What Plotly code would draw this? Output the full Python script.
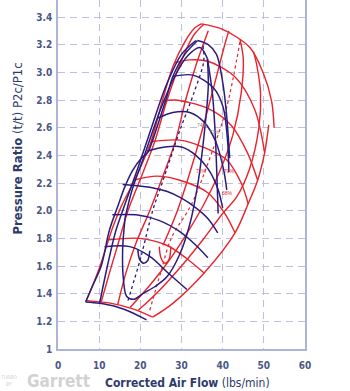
import plotly.graph_objects as go

# ---------------- axis ticks ----------------
x_ticks = [0, 10, 20, 30, 40, 50, 60]
x_tick_labels = ["0", "10", "20", "30", "40", "50", "60"]
y_ticks = [1.0, 1.2, 1.4, 1.6, 1.8, 2.0, 2.2, 2.4, 2.6, 2.8, 3.0, 3.2, 3.4]
y_tick_labels = ["1", "1.2", "1.4", "1.6", "1.8", "2.0", "2.2", "2.4", "2.6", "2.8", "3.0", "3.2", "3.4"]

# ---------------- red compressor map (flow lbs/min, pressure ratio) ----------------
red_surge = [(6.9, 1.35), (10.1, 1.59), (13.3, 1.88), (15.5, 2.04), (18.6, 2.22), (22.5, 2.49),
             (25.4, 2.80), (27.9, 3.04), (30.8, 3.22), (33.2, 3.32), (34.8, 3.35)]
red_speed_1 = [(6.9, 1.35), (13.0, 1.33), (18.2, 1.29), (23.0, 1.23)]
red_speed_2 = [(12.4, 1.79), (19.8, 1.80), (26.4, 1.75), (31.0, 1.66), (35.5, 1.55)]
red_speed_3 = [(18.3, 2.22), (24.0, 2.25), (29.6, 2.22), (36.4, 2.13), (40.5, 1.98), (43.0, 1.84)]
red_speed_4 = [(22.6, 2.50), (29.6, 2.51), (35.2, 2.46), (40.9, 2.37), (44.5, 2.20), (46.2, 2.05)]
red_speed_5 = [(25.3, 2.79), (28.3, 2.80), (36.4, 2.74), (42.0, 2.62), (46.0, 2.42), (48.5, 2.22)]
red_speed_6 = [(28.4, 3.07), (32.0, 3.09), (36.4, 3.08), (42.9, 2.97), (47.8, 2.73), (50.2, 2.42)]
red_speed_7 = [(34.8, 3.35), (40.0, 3.31), (46.6, 3.18), (49.8, 3.00), (51.9, 2.79), (52.5, 2.60)]
red_choke = [(23.0, 1.23), (27.9, 1.33), (35.5, 1.55), (43.0, 1.84), (46.2, 2.05), (48.5, 2.22),
             (50.2, 2.42), (51.2, 2.62)]
red_eff_a = [(19.5, 1.28), (24.5, 1.42), (30.0, 1.60), (35.2, 1.79), (40.0, 1.98), (43.4, 2.10),
             (46.5, 2.30), (48.8, 2.60), (49.2, 2.85), (48.3, 3.05), (47.5, 3.15)]
red_eff_b = [(17.5, 1.30), (22.0, 1.45), (26.5, 1.62), (31.0, 1.82), (35.5, 2.05), (39.5, 2.30),
             (42.5, 2.55), (44.5, 2.85), (45.0, 3.10), (44.2, 3.24)]
red_eff_c = [(25.5, 1.75), (29.0, 2.00), (33.2, 2.39), (37.0, 2.80), (40.6, 3.21), (41.5, 3.30)]
red_eff_d = [(10.5, 1.34), (12.5, 1.55), (14.5, 1.75), (17.0, 2.00), (20.3, 2.25), (23.5, 2.50),
             (26.5, 2.80), (29.5, 3.05), (33.0, 3.27), (35.5, 3.35)]
red_eff_e = [(14.5, 1.32), (16.5, 1.55), (19.0, 1.77), (22.3, 2.00), (25.5, 2.25), (28.5, 2.50),
             (31.0, 2.80), (33.5, 3.05), (36.5, 3.30)]
red_island = [(24.6, 1.74), (25.0, 1.66), (26.0, 1.62), (27.0, 1.65), (27.4, 1.74)]
red_dotted = [(22.3, 1.28), (25.1, 1.57), (27.5, 1.80), (32.5, 2.05), (37.6, 2.44), (41.0, 2.75),
              (44.2, 3.22)]
red_labels = [(34.8, 2.29, "72%"), (41.7, 2.29, "70%"), (41.2, 2.13, "68%")]

# ---------------- blue compressor map ----------------
blue_surge = [(6.7, 1.34), (8.6, 1.47), (10.5, 1.60), (12.5, 1.86), (14.5, 2.03), (16.2, 2.17),
              (18.1, 2.29), (20.3, 2.38), (21.8, 2.42), (23.0, 2.51), (24.0, 2.60), (26.4, 2.82),
              (27.9, 2.97), (30.8, 3.13), (33.9, 3.23)]
blue_speed_1 = [(6.7, 1.34), (10.1, 1.33), (14.2, 1.305), (18.2, 1.26), (21.5, 1.21)]
blue_speed_2 = [(11.3, 1.74), (17.4, 1.74), (22.3, 1.67), (27.1, 1.54), (31.3, 1.43)]
blue_speed_3 = [(13.2, 1.97), (19.0, 1.97), (24.5, 1.93), (29.5, 1.85), (33.5, 1.75), (36.4, 1.66)]
blue_speed_4 = [(15.7, 2.19), (22.3, 2.17), (26.4, 2.14), (30.0, 2.09), (33.5, 2.02), (36.5, 1.94),
                (38.8, 1.84)]
blue_speed_5 = [(21.7, 2.43), (26.0, 2.46), (30.0, 2.46), (33.5, 2.40), (36.5, 2.30), (38.8, 2.16),
                (40.0, 2.02)]
blue_speed_6 = [(24.3, 2.67), (27.9, 2.71), (32.0, 2.71), (35.5, 2.64), (38.3, 2.50), (40.2, 2.30),
                (41.0, 2.15)]
blue_speed_7 = [(27.9, 2.97), (32.8, 2.98), (37.7, 2.89), (40.1, 2.75), (41.2, 2.50), (41.5, 2.28)]
blue_speed_8 = [(33.9, 3.23), (36.5, 3.20), (38.5, 3.13), (40.0, 2.93), (40.9, 2.71), (41.7, 2.38)]
blue_loop = [(16.3, 1.95), (15.7, 1.72), (15.9, 1.50), (16.7, 1.38), (18.5, 1.36), (20.6, 1.40),
             (23.5, 1.45), (26.4, 1.52), (29.5, 1.68), (32.0, 1.90), (34.0, 2.20), (35.5, 2.55),
             (36.5, 2.90), (36.3, 3.10)]
blue_leg_1 = [(10.1, 1.33), (12.0, 1.60), (14.0, 1.85), (16.3, 2.05), (19.3, 2.30), (22.7, 2.60),
              (26.2, 2.90), (30.0, 3.13), (33.5, 3.23)]
blue_leg_2 = [(16.3, 1.95), (18.0, 2.15), (21.0, 2.40), (24.5, 2.70), (28.0, 2.95), (31.5, 3.12),
              (34.5, 3.18), (36.3, 3.10)]
blue_leg_3 = [(36.3, 3.10), (37.5, 2.85), (38.2, 2.55), (38.6, 2.25), (38.9, 1.98)]
blue_island = [(19.4, 1.72), (19.8, 1.65), (20.8, 1.62), (21.8, 1.64), (22.3, 1.71)]
blue_dotted = [(17.0, 1.35), (20.0, 1.65), (23.0, 2.00), (25.3, 2.20), (29.6, 2.58), (33.0, 2.85),
               (35.4, 3.08), (35.2, 3.20)]
gray_labels = [(35.2, 2.62, "74%"), (38.0, 2.57, "72%")]

RED = "#e8232c"
BLUE = "#2b1c7c"

red_solid = [red_surge, red_speed_1, red_speed_2, red_speed_3, red_speed_4, red_speed_5,
             red_speed_6, red_speed_7, red_choke, red_eff_a, red_eff_b, red_eff_c, red_eff_d,
             red_eff_e, red_island]
blue_solid = [blue_surge, blue_speed_1, blue_speed_2, blue_speed_3, blue_speed_4, blue_speed_5,
              blue_speed_6, blue_speed_7, blue_speed_8, blue_loop, blue_leg_1, blue_leg_2,
              blue_leg_3, blue_island]

fig = go.Figure()


def add_curve(pts, color, width, dash="solid"):
    fig.add_trace(go.Scatter(
        x=[p[0] for p in pts], y=[p[1] for p in pts], mode="lines",
        line=dict(color=color, width=width, shape="spline", smoothing=0.9, dash=dash),
        hoverinfo="skip", showlegend=False))


for c in red_solid:
    add_curve(c, RED, 1.4)
add_curve(red_dotted, RED, 1.2, "dot")
for c in blue_solid:
    add_curve(c, BLUE, 1.5)
add_curve(blue_dotted, BLUE, 1.3, "dot")

for x, y, t in red_labels:
    fig.add_annotation(x=x, y=y, text=t, showarrow=False,
                       font=dict(size=5, color=RED, family="Liberation Sans"))
for x, y, t in gray_labels:
    fig.add_annotation(x=x, y=y, text=t, showarrow=False,
                       font=dict(size=5, color="#8a8a8a", family="Liberation Sans"))

FONT = "DejaVu Sans Condensed, DejaVu Sans, sans-serif"
TICKC = "#4a5684"
TITLEC = "#2f3a6c"
GRIDC = "#bcc0dc"
LINEC = "#aeb3d8"

fig.update_xaxes(range=[0, 60], tickvals=x_ticks, ticktext=x_tick_labels,
                 showgrid=True, gridcolor=GRIDC, griddash="7px,5px", gridwidth=1,
                 showline=True, linecolor=LINEC, linewidth=1.5, mirror=False,
                 zeroline=False, ticks="", ticklabelstandoff=6,
                 tickfont=dict(family=FONT, size=10, color=TICKC, weight="bold"))
fig.update_yaxes(range=[1, 3.523], tickvals=y_ticks, ticktext=y_tick_labels,
                 showgrid=True, gridcolor=GRIDC, griddash="7px,5px", gridwidth=1,
                 showline=True, linecolor=LINEC, linewidth=1.5, mirror=True,
                 zeroline=False, ticks="", ticklabelstandoff=2,
                 tickfont=dict(family=FONT, size=10, color=TICKC, weight="bold"))

fig.add_annotation(xref="paper", yref="paper", x=0.523, y=-0.097, showarrow=False,
                   xanchor="center", yanchor="middle",
                   text="<b>Corrected Air Flow</b> (lbs/min)",
                   font=dict(family=FONT, size=12, color=TITLEC))
fig.add_annotation(xref="paper", yref="paper", x=-0.165, y=0.575, showarrow=False,
                   xanchor="center", yanchor="middle",
                   textangle=-90, text="<b>Pressure Ratio</b> (t/t) P2c/P1c",
                   font=dict(family=FONT, size=13, color=TITLEC))
fig.add_annotation(xref="paper", yref="paper", x=0.0, y=-0.092, showarrow=False,
                   text="<b>Garrett</b>", xanchor="center", yanchor="middle",
                   font=dict(family=FONT, size=17, color="#d2d2d2"))
fig.add_annotation(xref="paper", yref="paper", x=-0.2, y=-0.09, showarrow=False,
                   xanchor="center", yanchor="middle",
                   text="<i>TURBO<br>BY</i>",
                   font=dict(family=FONT, size=5, color="#d2d2d2"))

fig.update_layout(width=350, height=391, margin=dict(l=58, r=45, t=0, b=42),
                  paper_bgcolor="white", plot_bgcolor="white")

fig.write_html("out.html")
